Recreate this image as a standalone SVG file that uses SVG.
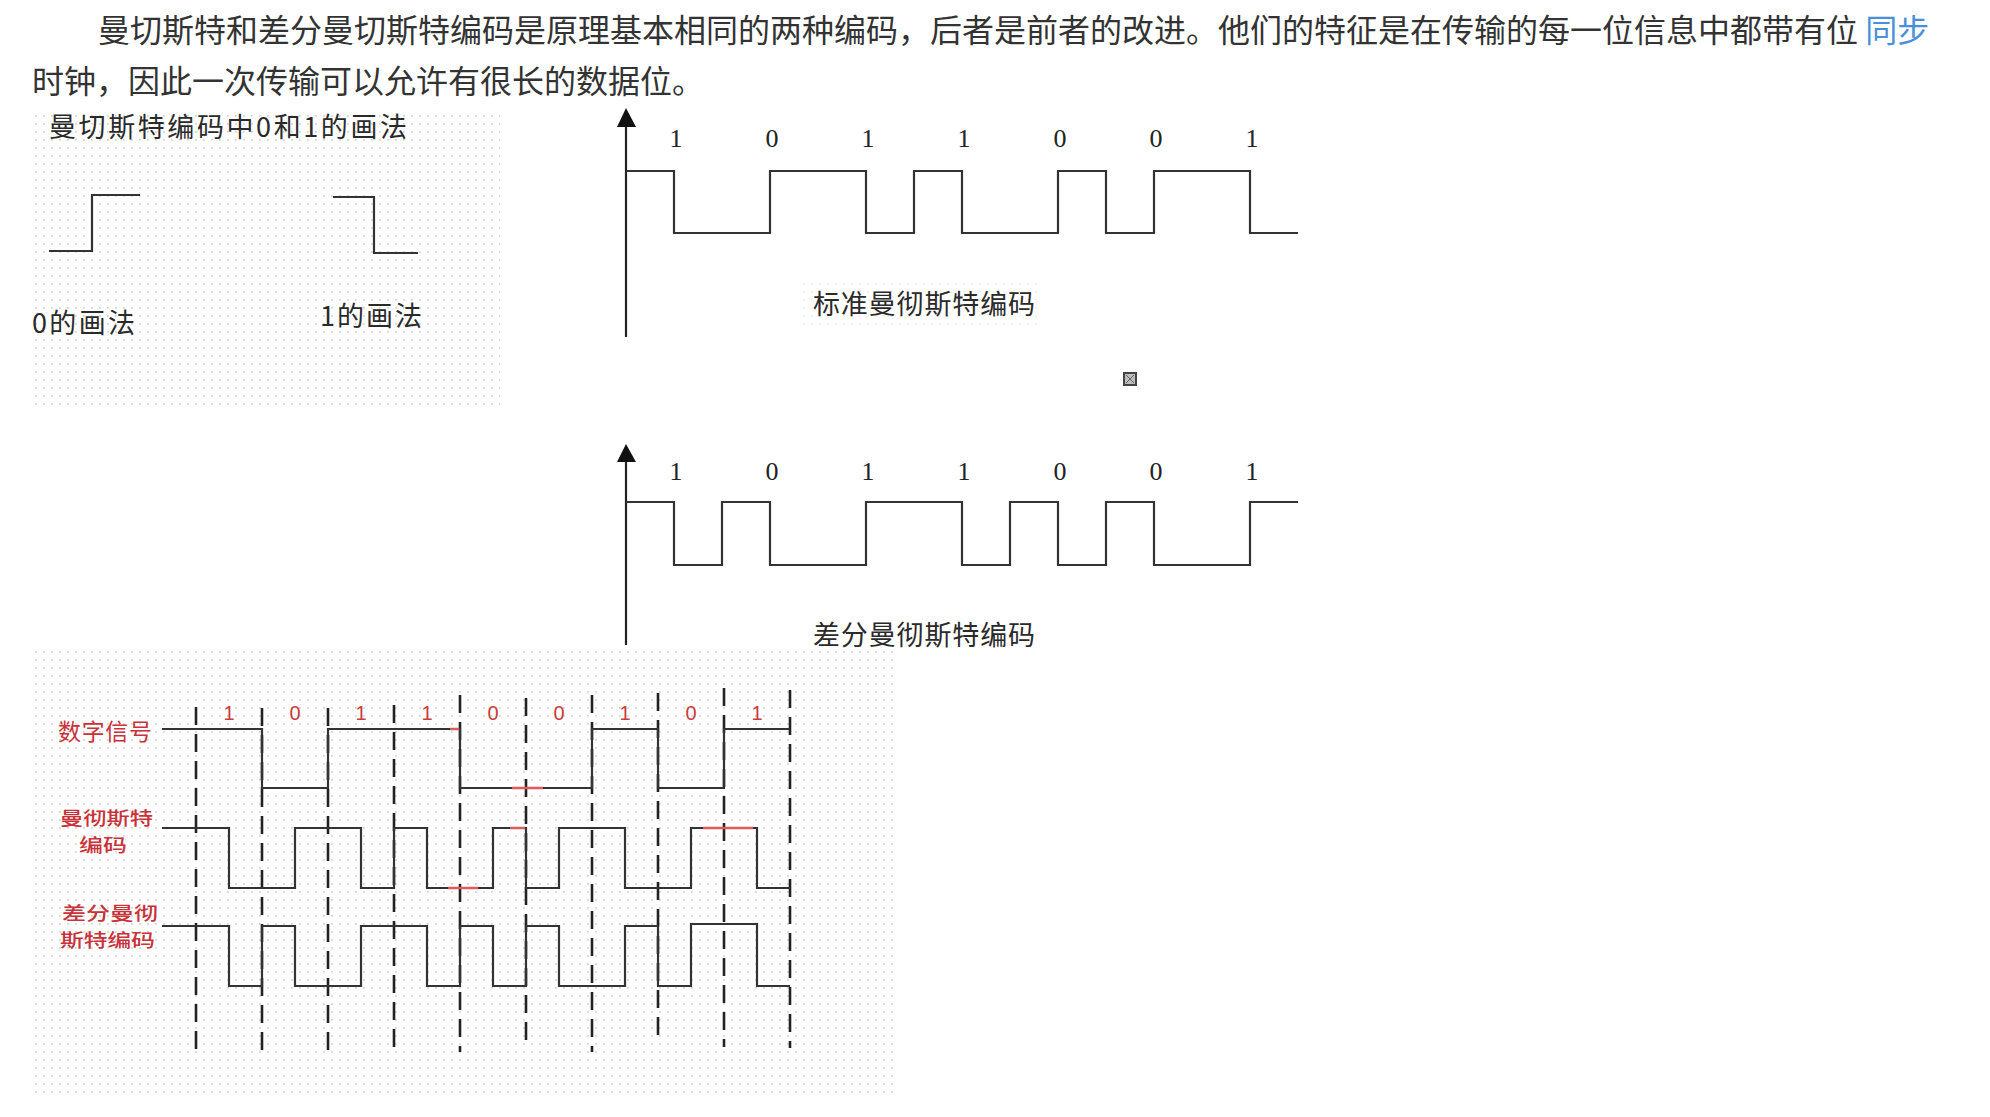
<svg xmlns="http://www.w3.org/2000/svg" width="1990" height="1117" viewBox="0 0 1990 1117">
<style>
.cjk{font-family:"Noto Sans CJK SC","Noto Sans",sans-serif}
.para{font-size:32px;fill:#333}
.lbl{font-size:27px;fill:#2a2a2a}
.digit{font-family:"Liberation Serif",serif;font-size:26px;fill:#222;text-anchor:middle}
.rdigit{font-family:"Liberation Sans",sans-serif;font-size:20px;fill:#c83c3c;text-anchor:middle}
.rlbl{font-size:23px;fill:#c8323a}
.rlbl2{font-size:18.5px;fill:#c8323a;font-weight:500}
.wave{fill:none;stroke:#333;stroke-width:2.2;stroke-linejoin:miter}
.axis{fill:none;stroke:#222;stroke-width:2.2}
.dash{fill:none;stroke:#222;stroke-width:2.6;stroke-dasharray:18 9}
.hl{fill:none;stroke:#e05a5a;stroke-width:2.4}
</style>
<defs>
<pattern id="dots" width="8" height="8" patternUnits="userSpaceOnUse">
<rect x="3" y="3" width="1.8" height="1.8" fill="#d6d6d6"/>
</pattern>
</defs>
<rect width="1990" height="1117" fill="#ffffff"/>

<g id="paragraph" class="cjk para">
<text x="98" y="42">曼切斯特和差分曼切斯特编码是原理基本相同的两种编码，后者是前者的改进。他们的特征是在传输的每一位信息中都带有位 <tspan fill="#4a8fd8">同步</tspan></text>
<text x="32" y="93">时钟，因此一次传输可以允许有很长的数据位。</text>
</g>

<g id="panel-bits">
<rect x="31" y="110" width="469" height="295" fill="url(#dots)"/>
<text class="cjk lbl" x="49" y="137" textLength="358" lengthAdjust="spacing">曼切斯特编码中0和1的画法</text>
<path class="wave" d="M49,251 H92 V195 H140"/>
<path class="wave" d="M333,197 H374 V253 H418"/>
<text class="cjk lbl" x="32" y="333" textLength="103" lengthAdjust="spacing">0的画法</text>
<text class="cjk lbl" x="320" y="326" textLength="102" lengthAdjust="spacing">1的画法</text>
</g>

<g id="standard-manchester">
<rect x="800" y="282" width="240" height="48" fill="url(#dots)" opacity="0.35"/>
<line class="axis" x1="626" y1="125" x2="626" y2="337"/>
<polygon points="626,108 617,127 636,127" fill="#111"/>
<g>
<text class="digit" x="676" y="147">1</text>
<text class="digit" x="772" y="147">0</text>
<text class="digit" x="868" y="147">1</text>
<text class="digit" x="964" y="147">1</text>
<text class="digit" x="1060" y="147">0</text>
<text class="digit" x="1156" y="147">0</text>
<text class="digit" x="1252" y="147">1</text>
</g>
<text class="cjk lbl" x="813" y="314" textLength="222" lengthAdjust="spacing">标准曼彻斯特编码</text>
</g>

<g id="broken-image-icon">
<rect x="1124" y="373" width="12" height="12" fill="#bdbdbd" stroke="#444" stroke-width="2"/>
<path d="M1126,375 L1134,383 M1134,375 L1126,383" stroke="#666" stroke-width="1"/>
</g>

<g id="differential-manchester">
<line class="axis" x1="626" y1="460" x2="626" y2="645"/>
<polygon points="626,444 617,462 636,462" fill="#111"/>
<g>
<text class="digit" x="676" y="480">1</text>
<text class="digit" x="772" y="480">0</text>
<text class="digit" x="868" y="480">1</text>
<text class="digit" x="964" y="480">1</text>
<text class="digit" x="1060" y="480">0</text>
<text class="digit" x="1156" y="480">0</text>
<text class="digit" x="1252" y="480">1</text>
</g>
<text class="cjk lbl" x="813" y="645" textLength="222" lengthAdjust="spacing">差分曼彻斯特编码</text>
</g>

<g id="panel-compare">
<rect x="30" y="650" width="866" height="443" fill="url(#dots)"/>
<text class="cjk rlbl" x="58" y="740" textLength="94" lengthAdjust="spacing">数字信号</text>
<text class="cjk rlbl2" x="60" y="825" textLength="93" lengthAdjust="spacingAndGlyphs">曼彻斯特</text>
<text class="cjk rlbl2" x="79" y="852" textLength="48" lengthAdjust="spacingAndGlyphs">编码</text>
<text class="cjk rlbl2" x="62" y="920" textLength="96" lengthAdjust="spacingAndGlyphs">差分曼彻</text>
<text class="cjk rlbl2" x="60" y="947" textLength="95" lengthAdjust="spacingAndGlyphs">斯特编码</text>
<g>
<text class="rdigit" x="229" y="720">1</text>
<text class="rdigit" x="295" y="720">0</text>
<text class="rdigit" x="361" y="720">1</text>
<text class="rdigit" x="427" y="720">1</text>
<text class="rdigit" x="493" y="720">0</text>
<text class="rdigit" x="559" y="720">0</text>
<text class="rdigit" x="625" y="720">1</text>
<text class="rdigit" x="691" y="720">0</text>
<text class="rdigit" x="757" y="720">1</text>
</g>
<g id="bit-boundaries">
<line class="dash" x1="196" y1="707" x2="196" y2="1052"/>
<line class="dash" x1="262" y1="708" x2="262" y2="1052"/>
<line class="dash" x1="328" y1="708" x2="328" y2="1056"/>
<line class="dash" x1="394" y1="705" x2="394" y2="1052"/>
<line class="dash" x1="460" y1="695" x2="460" y2="1052"/>
<line class="dash" x1="526" y1="698" x2="526" y2="1048"/>
<line class="dash" x1="592" y1="695" x2="592" y2="1052"/>
<line class="dash" x1="658" y1="693" x2="658" y2="1044"/>
<line class="dash" x1="724" y1="688" x2="724" y2="1047"/>
<line class="dash" x1="790" y1="690" x2="790" y2="1048"/>
</g>
</g>

<g id="connectors">
<path class="wave" d="M626,171 H674 V233 H770 V171 H866 V233 H914 V171 H962 V233 H1058 V171 H1106 V233 H1154 V171 H1250 V233 H1298"/>
<path class="wave" d="M626,502 H674 V565 H722 V502 H770 V565 H866 V502 H962 V565 H1010 V502 H1058 V565 H1106 V502 H1154 V565 H1250 V502 H1298"/>
<path class="wave" d="M162,729 H262 V788 H328 V729 H460 V788 H592 V729 H658 V788 H724 V729 H790"/>
<path class="wave" d="M162,828 H229 V888 H295 V828 H361 V888 H394 V828 H427 V888 H493 V828 H526 V888 H559 V828 H625 V888 H691 V828 H757 V888 H790"/>
<path class="wave" d="M162,926 H229 V986 H262 V926 H295 V986 H361 V926 H427 V986 H460 V926 H493 V986 H526 V926 H559 V986 H625 V926 H658 V986 H691 V924 H757 V986 H790"/>
<path class="hl" d="M450,729 H459 M512,788 H543 M448,888 H478 M510,828 H525 M703,828 H753"/>
</g>
</svg>
